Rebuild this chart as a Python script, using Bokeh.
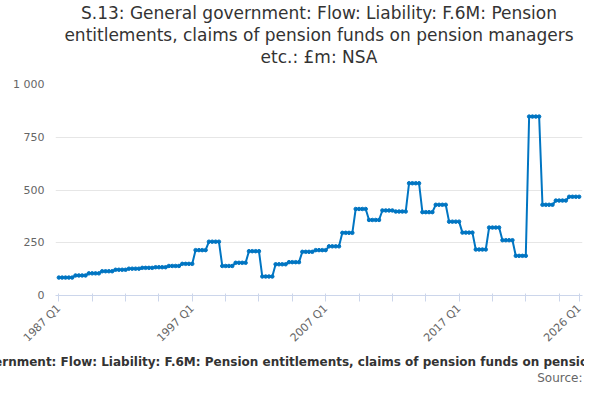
from bokeh.plotting import figure
from bokeh.embed import file_html
from bokeh.resources import INLINE
from bokeh.models import FixedTicker, Title
import math

first_value = 85
annual_levels = [85, 95, 105, 115, 122, 127, 131, 134, 140, 150, 215, 255, 140, 155, 210, 90,
                 148, 158, 207, 215, 233, 297, 410, 358, 403, 398, 532, 395, 430, 350, 298,
                 218, 322, 262, 188, 848, 430, 450, 468]
tick_labels = {0: "1987 Q1", 40: "1997 Q1", 80: "2007 Q1", 120: "2017 Q1", 156: "2026 Q1"}

values = [first_value]
for lv in annual_levels:
    values += [lv] * 4
values = values[:157]
idx = list(range(len(values)))

p = figure(width=584, height=384, output_backend="svg", toolbar_location=None,
           x_range=(-1, 157), y_range=(0, 1000), min_border_left=55, min_border_right=2,
           min_border_top=0, min_border_bottom=0)
p.line(idx, values, line_color="#0075c2", line_width=2)
p.scatter(idx, values, size=3.5, color="#0075c2")

ticks = list(range(0, 151, 10)) + [156]
p.xaxis.ticker = FixedTicker(ticks=ticks)
p.xaxis.major_label_overrides = {t: tick_labels.get(t, "") for t in ticks}
p.xaxis.major_label_orientation = math.pi / 4
p.xaxis.minor_tick_line_color = None
p.yaxis.ticker = FixedTicker(ticks=[0, 250, 500, 750, 1000])
p.yaxis.major_label_overrides = {1000: "1 000"}
p.yaxis.axis_line_color = None
p.yaxis.major_tick_line_color = None
p.yaxis.minor_tick_line_color = None
p.xaxis.axis_line_color = "#ccd6eb"
p.xaxis.major_tick_line_color = "#ccd6eb"
for ax in (p.xaxis, p.yaxis):
    ax.major_label_text_color = "#666666"
    ax.major_label_text_font = "DejaVu Sans"
    ax.major_label_text_font_size = "11px"
p.xgrid.grid_line_color = None
p.ygrid.grid_line_color = "#e6e6e6"
p.outline_line_color = None

p.add_layout(Title(text="S.13: General government: Flow: Liability: F.6M: Pension entitlements, claims of pension funds on pension managers etc.: £m: NSA",
                   align="center", text_font_size="12px", text_font_style="bold",
                   text_color="#333333", text_font="DejaVu Sans", standoff=0), "below")
p.add_layout(Title(text="Source:", align="right", text_font_size="12px",
                   text_font_style="normal", text_color="#666666", text_font="DejaVu Sans", standoff=0), "below")
p.add_layout(Title(text=" ", text_font_size="14px", standoff=0), "above")
lines = ["etc.: £m: NSA", "entitlements, claims of pension funds on pension managers",
         "S.13: General government: Flow: Liability: F.6M: Pension"]
for line in lines:
    p.add_layout(Title(text=line, align="center", text_font_size="17px",
                       text_font_style="normal", text_color="#333333", text_font="DejaVu Sans",
                       standoff=0), "above")

open("out.html", "w").write(file_html(p, INLINE))
